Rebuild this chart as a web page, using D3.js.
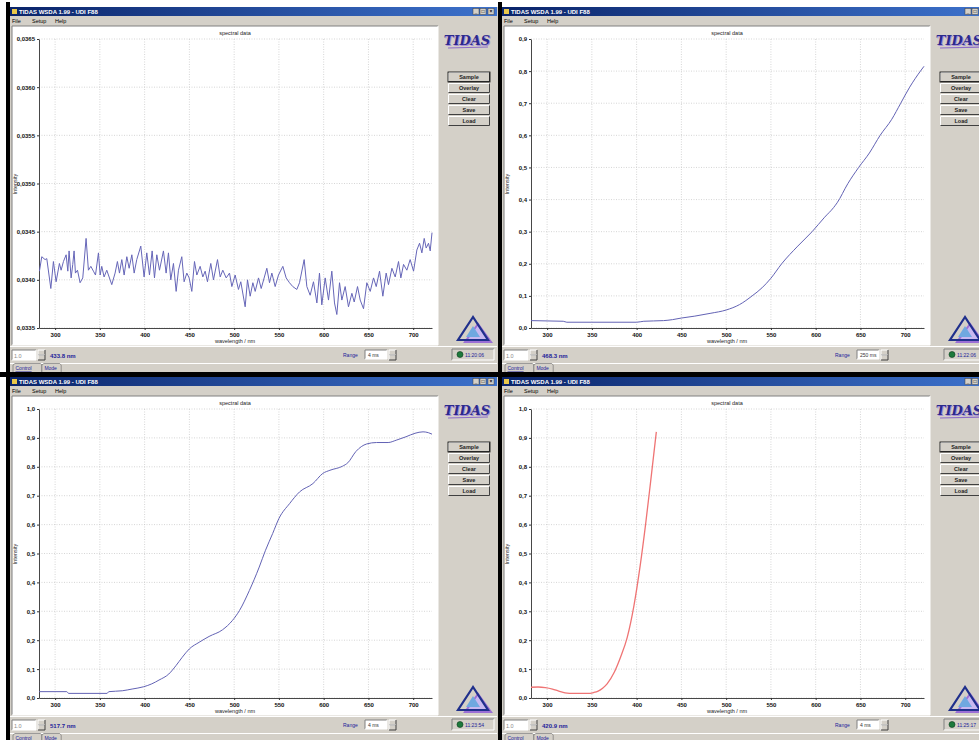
<!DOCTYPE html>
<html><head><meta charset="utf-8">
<script src="https://cdn.jsdelivr.net/npm/d3@7"></script>
<style>
body{margin:0;background:#fff;}
svg{display:block;font-family:"Liberation Sans",Arial,sans-serif;}
</style>
</head><body>
<svg id="c" width="979" height="740"></svg>
<script>
// ---------------- data ----------------
const xTicks = [300, 350, 400, 450, 500, 550, 600, 650, 700];
const yTicksNoise = [0.0335, 0.0340, 0.0345, 0.0350, 0.0355, 0.0360, 0.0365];
const yTicksNine = [0, 0.1, 0.2, 0.3, 0.4, 0.5, 0.6, 0.7, 0.8, 0.9];
const yTicksTen = [0, 0.1, 0.2, 0.3, 0.4, 0.5, 0.6, 0.7, 0.8, 0.9, 1.0];
const buttonLabels = ["Sample", "Overlay", "Clear", "Save", "Load"];
const menuLabels = ["File", "Setup", "Help"];
const tabLabels = ["Control", "Mode"];
const windowTitle = "TIDAS WSDA 1.99 - UDI F88";
const chartTitle = "spectral data";
const xAxisTitle = "wavelength / nm";
const yAxisTitle = "Intensity";
const statusCursor = ["433.8 nm", "468.3 nm", "517.7 nm", "420.9 nm"];
const statusRange = ["4 ms", "250 ms", "4 ms", "4 ms"];
const statusTime = ["11:20:06", "11:22:06", "11:23:54", "11:25:17"];

// panel 1 (top-left): noisy baseline
const noiseWavelength = [282.5,285.1,288.8,290.7,295.2,298.1,301.1,304.8,306.7,309.3,312.3,314.2,315.6,317.9,319.7,321.2,322.7,325.0,327.9,330.9,334.6,337.2,339.9,342.8,345.1,348.4,350.3,352.1,354.7,357.7,363.3,367.0,369.6,371.9,374.5,377.1,380.1,382.7,385.7,388.3,391.2,395.7,399.4,402.4,405.4,408.4,411.0,413.6,416.6,421.0,424.0,426.6,429.2,432.2,435.2,437.8,441.5,444.1,447.1,449.7,452.7,455.7,458.3,462.0,465.0,467.6,470.2,473.9,476.9,481.4,484.4,487.3,491.1,494.8,497.4,501.1,504.8,507.4,512.3,514.9,517.9,520.9,523.5,527.2,530.2,536.5,539.5,542.1,545.8,549.5,554.4,558.1,561.8,565.5,570.0,573.0,578.2,581.2,584.9,588.6,592.4,595.3,597.9,601.7,605.4,609.1,612.1,614.7,617.7,620.3,624.0,627.7,631.5,634.1,637.8,640.8,644.5,648.2,652.0,655.7,658.7,662.4,666.1,669.8,672.4,676.2,679.9,683.6,686.2,689.2,692.9,696.6,700.4,704.1,707.1,709.7,712.3,714.5,717.1,719.0,721.0];
const noiseIntensity = [0.03409,0.03424,0.03421,0.03422,0.03391,0.03419,0.03398,0.03417,0.03410,0.03419,
0.03426,0.03409,0.03430,0.03402,0.03416,0.03430,0.03407,0.03410,0.03397,0.03402,
0.03443,0.03410,0.03414,0.03409,0.03405,0.03428,0.03405,0.03414,0.03403,0.03410,
0.03395,0.03407,0.03419,0.03407,0.03421,0.03405,0.03424,0.03412,0.03426,0.03407,
0.03421,0.03435,0.03403,0.03428,0.03405,0.03430,0.03402,0.03426,0.03410,0.03430,
0.03407,0.03428,0.03400,0.03417,0.03388,0.03410,0.03424,0.03398,0.03407,0.03402,
0.03388,0.03419,0.03405,0.03414,0.03403,0.03409,0.03398,0.03417,0.03400,0.03421,
0.03403,0.03410,0.03402,0.03407,0.03393,0.03405,0.03390,0.03398,0.03372,0.03400,
0.03383,0.03397,0.03388,0.03402,0.03391,0.03412,0.03397,0.03407,0.03393,0.03405,
0.03414,0.03402,0.03397,0.03393,0.03390,0.03397,0.03421,0.03393,0.03384,0.03398,
0.03376,0.03407,0.03374,0.03402,0.03379,0.03409,0.03376,0.03364,0.03397,0.03379,
0.03393,0.03372,0.03386,0.03377,0.03393,0.03379,0.03370,0.03397,0.03388,0.03402,
0.03393,0.03409,0.03383,0.03407,0.03395,0.03412,0.03403,0.03419,0.03402,0.03416,
0.03410,0.03421,0.03409,0.03431,0.03438,0.03428,0.03443,0.03433,0.03438,0.03430,
0.03449];

// panel 2 (top-right)
const riseWavelength = [282,300,318,322,350,400,408,430,440,450,465,483,500,515,529,540,550,562,580,596,610,620,624,636,648,660,672,685,695,705,717,721];
const riseIntensity = [0.023,0.022,0.021,0.018,0.018,0.018,0.021,0.023,0.026,0.031,0.037,0.046,0.056,0.073,0.100,0.125,0.155,0.200,0.255,0.300,0.345,0.375,0.390,0.450,0.500,0.545,0.600,0.650,0.700,0.750,0.800,0.815];

// panel 3 (bottom-left)
const stepWavelength = [281,313,315,358,360,375,386,399,408,416,427,435,442,450,461,472,487,498,506,517,528,535,543,550,562,573,588,599,607,621,627,636,648,659,672,681,692,702,711,717,721];
const stepIntensity = [0.022,0.022,0.016,0.016,0.022,0.025,0.031,0.039,0.049,0.062,0.083,0.112,0.141,0.170,0.193,0.213,0.236,0.268,0.303,0.372,0.453,0.511,0.569,0.621,0.673,0.713,0.742,0.777,0.788,0.802,0.814,0.853,0.879,0.884,0.884,0.892,0.904,0.916,0.921,0.918,0.913];

// panel 4 (bottom-right)
const redWavelength = [281,290,298,306,313,320,330,345,352,357,362,367,375,382,389.5,397,404,410,415.6,422];
const redIntensity = [0.037,0.038,0.036,0.031,0.024,0.018,0.016,0.016,0.019,0.024,0.034,0.049,0.089,0.141,0.210,0.320,0.459,0.601,0.748,0.921];

// ---------------- drawing ----------------
const svg = d3.select("#c");
const comma = d3.formatLocale({decimal: ",", thousands: ".", grouping: [3], currency: ["", ""]});

const defs = svg.append("defs");
const grad = defs.append("linearGradient").attr("id", "tb");
grad.append("stop").attr("offset", "0%").attr("stop-color", "#0a246a");
grad.append("stop").attr("offset", "100%").attr("stop-color", "#3d72cc");
defs.append("clipPath").attr("id", "plotclip").append("rect").attr("x", 39).attr("y", 37).attr("width", 394).attr("height", 292);

const panels = [
  {ox: 0, oy: 0, xs: noiseWavelength, ys: noiseIntensity, dom: [0.0335, 0.0365], ticks: yTicksNoise, fmt: ".4f", color: "#6666b8", curve: d3.curveLinear, i: 0},
  {ox: 492, oy: 0, xs: riseWavelength, ys: riseIntensity, dom: [0, 0.9], ticks: yTicksNine, fmt: ".1f", color: "#6262b4", curve: d3.curveMonotoneX, i: 1},
  {ox: 0, oy: 370, xs: stepWavelength, ys: stepIntensity, dom: [0, 1.0], ticks: yTicksTen, fmt: ".1f", color: "#6262b4", curve: d3.curveMonotoneX, i: 2},
  {ox: 492, oy: 370, xs: redWavelength, ys: redIntensity, dom: [0, 1.0], ticks: yTicksTen, fmt: ".1f", color: "#ef7474", curve: d3.curveMonotoneX, i: 3}
];

function bevel(g, x, y, w, h, sunken) {
  const a = sunken ? "#808080" : "#ffffff", b = sunken ? "#ffffff" : "#404040";
  g.append("path").attr("d", `M${x},${y+h}V${y}H${x+w}`).attr("fill", "none").attr("stroke", a).attr("stroke-width", 1);
  g.append("path").attr("d", `M${x},${y+h}H${x+w}V${y}`).attr("fill", "none").attr("stroke", b).attr("stroke-width", 1);
}

panels.forEach(p => {
  const g = svg.append("g").attr("transform", `translate(${p.ox},${p.oy})`);

  // window body
  g.append("rect").attr("x", 10).attr("y", 7).attr("width", 488).attr("height", 366).attr("fill", "#d4d0c8");
  g.append("rect").attr("x", 6).attr("y", 2).attr("width", 4).attr("height", 371).attr("fill", "#000");

  // title bar
  g.append("rect").attr("x", 10).attr("y", 7).attr("width", 487).attr("height", 9).attr("fill", "url(#tb)");
  g.append("rect").attr("x", 12).attr("y", 9).attr("width", 5).attr("height", 5).attr("fill", "#e9c84a");
  g.append("text").attr("x", 19).attr("y", 14.2).attr("fill", "#fff").attr("font-size", 6).attr("font-weight", "bold").text(windowTitle);
  [473, 480, 488].forEach((bx, k) => {
    g.append("rect").attr("x", bx).attr("y", 8.5).attr("width", 6).attr("height", 6).attr("fill", "#d4d0c8").attr("stroke", "#404040").attr("stroke-width", 0.5);
    g.append("text").attr("x", bx + 3).attr("y", 13.3).attr("text-anchor", "middle").attr("font-size", 5).attr("font-weight", "bold").attr("fill", "#000").text(["_", "□", "×"][k]);
  });

  // menu
  let mx = 12;
  menuLabels.forEach(m => {
    g.append("text").attr("x", mx).attr("y", 23).attr("font-size", 5.5).attr("fill", "#000").text(m);
    mx += m.length * 3 + 8;
  });

  // chart panel
  g.append("rect").attr("x", 12).attr("y", 26).attr("width", 426).attr("height", 319).attr("fill", "#fff");
  bevel(g, 12, 26, 426, 319, true);

  const x = d3.scaleLinear().domain([282, 721]).range([39, 432]);
  const y = d3.scaleLinear().domain(p.dom).range([328, 39]);

  // grid
  g.append("g").selectAll("line").data(xTicks).join("line")
    .attr("x1", d => x(d)).attr("x2", d => x(d)).attr("y1", 39).attr("y2", 328)
    .attr("stroke", "#c4c4c4").attr("stroke-width", 0.7).attr("stroke-dasharray", "1,1.5");
  g.append("g").selectAll("line").data(p.ticks).join("line")
    .attr("x1", 39).attr("x2", 432).attr("y1", d => y(d)).attr("y2", d => y(d))
    .attr("stroke", "#c4c4c4").attr("stroke-width", 0.7).attr("stroke-dasharray", "1,1.5");

  // axes
  const fmt = comma.format(p.fmt);
  const ya = g.append("g").attr("transform", "translate(39,0)")
    .call(d3.axisLeft(y).tickValues(p.ticks).tickFormat(fmt).tickSize(2).tickSizeOuter(0).tickPadding(2));
  const xa = g.append("g").attr("transform", "translate(0,328)")
    .call(d3.axisBottom(x).tickValues(xTicks).tickSize(2).tickSizeOuter(0).tickPadding(3));
  [ya, xa].forEach(a => {
    a.selectAll("text").attr("font-size", 6).attr("font-weight", "bold").attr("fill", "#111").attr("font-family", "Liberation Sans, Arial, sans-serif");
    a.select(".domain").attr("stroke", "#333").attr("stroke-width", 0.9);
    a.selectAll(".tick line").attr("stroke", "#333");
  });

  g.append("text").attr("x", 235).attr("y", 35).attr("text-anchor", "middle").attr("font-size", 5.5).attr("fill", "#222").text(chartTitle);
  g.append("text").attr("x", 235).attr("y", 342.5).attr("text-anchor", "middle").attr("font-size", 5.5).attr("fill", "#222").text(xAxisTitle);
  g.append("text").attr("transform", "translate(17,184) rotate(-90)").attr("text-anchor", "middle").attr("font-size", 5.5).attr("fill", "#222").text(yAxisTitle);

  // data line (clip in the group's local coordinates)
  const pts = p.xs.map((v, k) => [v, p.ys[k]]);
  const line = d3.line().x(d => x(d[0])).y(d => y(d[1])).curve(p.curve);
  g.append("path").attr("clip-path", "url(#plotclip)")
    .attr("d", line(pts)).attr("fill", "none").attr("stroke", p.color).attr("stroke-width", p.i === 3 ? 1.3 : 1)
    .attr("stroke-linejoin", "round");

  // logo text
  g.append("text").attr("x", 467).attr("y", 45).attr("text-anchor", "middle")
    .attr("font-family", "DejaVu Serif, serif").attr("font-style", "italic").attr("font-weight", "bold")
    .attr("font-size", 13).attr("fill", "#a58ad8").attr("transform", "translate(1,1)").text("TIDAS");
  g.append("text").attr("x", 467).attr("y", 45).attr("text-anchor", "middle")
    .attr("font-family", "DejaVu Serif, serif").attr("font-style", "italic").attr("font-weight", "bold")
    .attr("font-size", 13).attr("fill", "#2b2a8c").text("TIDAS");
  g.append("line").attr("x1", 448).attr("x2", 488).attr("y1", 48).attr("y2", 47).attr("stroke", "#8c6cc8").attr("stroke-width", 1.2);

  // buttons
  buttonLabels.forEach((b, k) => {
    const by = 72 + k * 11;
    g.append("rect").attr("x", 448).attr("y", by).attr("width", 42).attr("height", 10).attr("fill", "#d4d0c8");
    bevel(g, 448.5, by + 0.5, 41, 9, false);
    if (k === 0) g.append("rect").attr("x", 448).attr("y", by).attr("width", 42).attr("height", 10).attr("fill", "none").attr("stroke", "#000").attr("stroke-width", 0.8);
    g.append("text").attr("x", 469).attr("y", by + 7.2).attr("text-anchor", "middle").attr("font-size", 5.5).attr("font-weight", "bold").attr("fill", "#222").text(b);
  });

  // triangle logo
  g.append("polygon").attr("points", "478,324 465,342 491,342").attr("fill", "#c8b8f0").attr("stroke", "#9b6fd6").attr("stroke-width", 2);
  g.append("polygon").attr("points", "473,317 458,340 488,340").attr("fill", "none").attr("stroke", "#1f2f8c").attr("stroke-width", 2.2);
  g.append("polygon").attr("points", "473,326 466,337 480,337").attr("fill", "#6fa8e0");

  // status bar
  g.append("line").attr("x1", 10).attr("x2", 497).attr("y1", 346.5).attr("y2", 346.5).attr("stroke", "#fff");
  g.append("rect").attr("x", 12).attr("y", 350).attr("width", 24).attr("height", 10).attr("fill", "#fff");
  bevel(g, 12, 350, 24, 10, true);
  g.append("text").attr("x", 14).attr("y", 357.5).attr("font-size", 5.5).attr("fill", "#8a8a8a").text("1.0");
  g.append("rect").attr("x", 38).attr("y", 350).attr("width", 7).attr("height", 10).attr("fill", "#d4d0c8");
  bevel(g, 38, 350, 7, 5, false); bevel(g, 38, 355, 7, 5, false);
  g.append("text").attr("x", 50).attr("y", 357.8).attr("font-size", 6).attr("font-weight", "bold").attr("fill", "#22229a").text(statusCursor[p.i]);
  g.append("text").attr("x", 343).attr("y", 357).attr("font-size", 5).attr("fill", "#22229a").text("Range");
  g.append("rect").attr("x", 365).attr("y", 350).attr("width", 22).attr("height", 9).attr("fill", "#fff");
  bevel(g, 365, 350, 22, 9, true);
  g.append("text").attr("x", 368).attr("y", 357).attr("font-size", 5).attr("fill", "#333").text(statusRange[p.i]);
  g.append("rect").attr("x", 389).attr("y", 350).attr("width", 7).attr("height", 10).attr("fill", "#d4d0c8");
  bevel(g, 389, 350, 7, 5, false); bevel(g, 389, 355, 7, 5, false);
  bevel(g, 452, 349, 42, 11, true);
  g.append("circle").attr("cx", 460).attr("cy", 354.5).attr("r", 3).attr("fill", "#1d7a3c").attr("stroke", "#0b3a1a").attr("stroke-width", 0.6);
  g.append("text").attr("x", 465).attr("y", 357).attr("font-size", 5).attr("fill", "#22229a").text(statusTime[p.i]);

  // tabs
  g.append("line").attr("x1", 10).attr("x2", 497).attr("y1", 363.5).attr("y2", 363.5).attr("stroke", "#fff");
  let tx = 13;
  tabLabels.forEach((t, k) => {
    const w = t.length * 3.2 + 5;
    g.append("path").attr("d", `M${tx},${372}V${365}L${tx+2},${363.5}H${tx+w}L${tx+w+1.5},${365}V${372}`)
      .attr("fill", "#d4d0c8").attr("stroke", "#666").attr("stroke-width", 0.6);
    g.append("text").attr("x", tx + 2.5).attr("y", 370).attr("font-size", 5).attr("fill", "#22229a")
      .attr("text-decoration", k === 0 ? "underline" : null).text(t);
    tx += w + 1.5;
  });
});

// black divider between top and bottom windows
svg.append("rect").attr("x", 0).attr("y", 372).attr("width", 979).attr("height", 5).attr("fill", "#000");
</script>
</body></html>
